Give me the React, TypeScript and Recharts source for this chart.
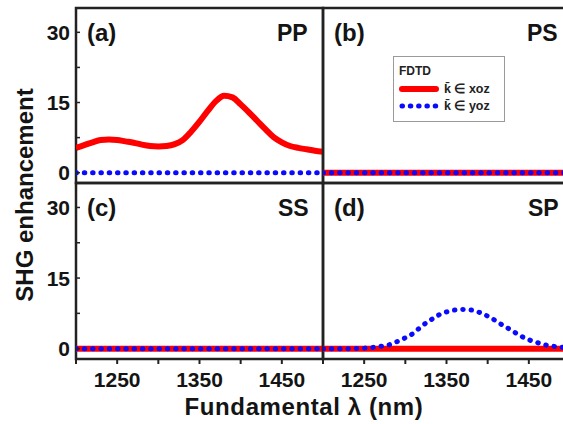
import React from 'react'
import { LineChart, Line, XAxis, YAxis, Legend, ReferenceArea } from 'recharts'

// fundamental wavelength (nm)
const wavelengths = [
  1200, 1210, 1220, 1230, 1240, 1250, 1260, 1270, 1280, 1290, 1300,
  1310, 1320, 1330, 1340, 1350, 1360, 1370, 1380, 1390, 1400,
  1410, 1420, 1430, 1440, 1450, 1460, 1470, 1480, 1490, 1500,
]

// (a) PP
const ppXoz = [
  5.3, 5.9, 6.5, 7.0, 7.1, 7.0, 6.7, 6.4, 6.0, 5.7, 5.6,
  5.7, 6.1, 7.0, 8.8, 10.9, 13.2, 15.3, 16.45, 16.1, 14.6,
  12.9, 11.1, 9.3, 7.6, 6.5, 5.7, 5.3, 5.0, 4.7, 4.5,
]
const ppYoz = [
  0, 0, 0, 0, 0, 0, 0, 0, 0, 0, 0,
  0, 0, 0, 0, 0, 0, 0, 0, 0, 0,
  0, 0, 0, 0, 0, 0, 0, 0, 0, 0,
]
// (b) PS
const psXoz = [
  0, 0, 0, 0, 0, 0, 0, 0, 0, 0, 0,
  0, 0, 0, 0, 0, 0, 0, 0, 0, 0,
  0, 0, 0, 0, 0, 0, 0, 0, 0, 0,
]
const psYoz = [
  0, 0, 0, 0, 0, 0, 0, 0, 0, 0, 0,
  0, 0, 0, 0, 0, 0, 0, 0, 0, 0,
  0, 0, 0, 0, 0, 0, 0, 0, 0, 0,
]
// (c) SS
const ssXoz = [
  0, 0, 0, 0, 0, 0, 0, 0, 0, 0, 0,
  0, 0, 0, 0, 0, 0, 0, 0, 0, 0,
  0, 0, 0, 0, 0, 0, 0, 0, 0, 0,
]
const ssYoz = [
  0, 0, 0, 0, 0, 0, 0, 0, 0, 0, 0,
  0, 0, 0, 0, 0, 0, 0, 0, 0, 0,
  0, 0, 0, 0, 0, 0, 0, 0, 0, 0,
]
// (d) SP
const spXoz = [
  0, 0, 0, 0, 0, 0, 0, 0, 0, 0, 0,
  0, 0, 0, 0, 0, 0, 0, 0, 0, 0,
  0, 0, 0, 0, 0, 0, 0, 0, 0, 0,
]
const spYoz = [
  0, 0, 0, 0, 0.05, 0.1, 0.25, 0.5, 0.8, 1.5, 2.3,
  3.3, 4.8, 6.0, 7.1, 7.8, 8.2, 8.3, 8.2, 7.7, 6.9,
  5.9, 4.8, 3.8, 2.7, 1.9, 1.3, 0.8, 0.5, 0.3, 0.2,
]

const xTicks = [1200, 1250, 1300, 1350, 1400, 1450, 1500]
const xLabels = [1250, 1350, 1450]
const yTicks = [0, 7.5, 15, 22.5, 30]
const yLabels = [0, 15, 30]

const FONT = '"Liberation Sans", Arial, Helvetica, sans-serif'
const FRAME = '#222222'
const RED = '#ff0000'
const BLUE = '#0a0aff'
const X_MIN = 1200
const X_MAX = 1500
const Y_MIN = -2.2
const Y_MAX = 35.2

const makeRows = (xoz: number[], yoz: number[]) =>
  wavelengths.map((w, i) => ({ w, xoz: xoz[i], yoz: yoz[i] }))

const renderLegend = (props: any) => (
  <div
    style={{
      width: 112,
      height: 66,
      boxSizing: 'border-box',
      border: '1px solid #9a9a9a',
      background: '#fff',
      fontFamily: FONT,
      fontWeight: 'bold',
      color: '#222',
      padding: '6px 0 0 5px',
    }}
  >
    <div style={{ fontSize: 12, height: 17, lineHeight: '17px' }}>FDTD</div>
    {(props.payload || []).map((entry: any) => (
      <div key={entry.value} style={{ display: 'flex', alignItems: 'center', height: 17 }}>
        <svg width={42} height={8} style={{ display: 'block' }}>
          <line
            x1={3}
            y1={4}
            x2={37}
            y2={4}
            stroke={entry.color}
            strokeWidth={entry.payload?.strokeWidth}
            strokeDasharray={entry.payload?.strokeDasharray}
            strokeLinecap="round"
          />
        </svg>
        <span style={{ fontSize: 12.5, marginLeft: 3 }}>{entry.value}</span>
      </div>
    ))}
  </div>
)

interface PanelProps {
  xoz: number[]
  yoz: number[]
  left: number
  top: number
  isLeft: boolean
  isBottom: boolean
  legend?: boolean
}

function Panel({ xoz, yoz, left, top, isLeft, isBottom, legend }: PanelProps) {
  const padL = isLeft ? 76 : 10
  const padT = isBottom ? 10 : 8
  const padB = isBottom ? 65 : 10
  const width = padL + 247 + 10
  const height = padT + (isBottom ? 176 : 175) + padB
  const tickStyle = { fontSize: 21, fontWeight: 'bold', fill: '#141414', fontFamily: FONT }

  return (
    <div style={{ position: 'absolute', left, top }}>
      <LineChart
        width={width}
        height={height}
        data={makeRows(xoz, yoz)}
        margin={{ top: padT, right: 10, bottom: isBottom ? 0 : padB, left: isLeft ? 0 : padL }}
      >
        <XAxis
          dataKey="w"
          type="number"
          domain={[X_MIN, X_MAX]}
          allowDataOverflow
          ticks={xTicks}
          interval={0}
          height={isBottom ? padB : 0}
          hide={!isBottom}
          stroke={FRAME}
          strokeWidth={2}
          tick={tickStyle}
          tickLine
          axisLine={false}
          tickSize={5}
          tickMargin={8}
          tickFormatter={(v: number) => (xLabels.includes(v) ? String(v) : '')}
        />
        <YAxis
          type="number"
          domain={[Y_MIN, Y_MAX]}
          allowDataOverflow
          ticks={yTicks}
          interval={0}
          width={isLeft ? 76 : 0}
          hide={!isLeft}
          stroke={FRAME}
          strokeWidth={1.5}
          tick={tickStyle}
          tickLine
          axisLine={false}
          tickSize={-4}
          tickMargin={10}
          tickFormatter={(v: number) => (yLabels.includes(v) ? String(v) : '')}
        />
        {/* panel frame */}
        <ReferenceArea
          x1={X_MIN}
          x2={X_MAX}
          y1={Y_MIN}
          y2={Y_MAX}
          fill="none"
          fillOpacity={0}
          stroke={FRAME}
          strokeWidth={2.5}
          strokeOpacity={1}
          ifOverflow="visible"
        />
        <Line
          dataKey="xoz"
          name="k̄ ∈ xoz"
          type="monotone"
          stroke={RED}
          strokeWidth={6}
          dot={false}
          isAnimationActive={false}
        />
        <Line
          dataKey="yoz"
          name="k̄ ∈ yoz"
          type="monotone"
          stroke={BLUE}
          strokeWidth={5}
          strokeDasharray="0.5 7.8"
          strokeLinecap="round"
          dot={false}
          isAnimationActive={false}
        />
        {legend && (
          <Legend
            layout="vertical"
            align="center"
            verticalAlign="middle"
            content={renderLegend}
            wrapperStyle={{ left: 80, top: 56, width: 112, height: 66 }}
          />
        )}
      </LineChart>
    </div>
  )
}

const tagStyle: React.CSSProperties = {
  position: 'absolute',
  fontFamily: FONT,
  fontWeight: 'bold',
  fontSize: 23,
  lineHeight: '24px',
  color: '#141414',
  whiteSpace: 'nowrap',
}

export default function App() {
  return (
    <div
      style={{
        position: 'fixed',
        left: 0,
        top: 0,
        width: 563,
        height: 424,
        overflow: 'hidden',
        background: '#fff',
      }}
    >
      <Panel xoz={ssXoz} yoz={ssYoz} left={0} top={173} isLeft isBottom />
      <Panel xoz={spXoz} yoz={spYoz} left={313} top={173} isLeft={false} isBottom />
      <Panel xoz={ppXoz} yoz={ppYoz} left={0} top={0} isLeft isBottom={false} />
      <Panel xoz={psXoz} yoz={psYoz} left={313} top={0} isLeft={false} isBottom={false} legend />

      <div style={{ ...tagStyle, left: 87, top: 21, fontSize: 24 }}>(a)</div>
      <div style={{ ...tagStyle, left: 277, top: 21 }}>PP</div>
      <div style={{ ...tagStyle, left: 334, top: 21, fontSize: 24 }}>(b)</div>
      <div style={{ ...tagStyle, left: 527, top: 21 }}>PS</div>
      <div style={{ ...tagStyle, left: 87, top: 196, fontSize: 24 }}>(c)</div>
      <div style={{ ...tagStyle, left: 278, top: 196 }}>SS</div>
      <div style={{ ...tagStyle, left: 334, top: 196, fontSize: 24 }}>(d)</div>
      <div style={{ ...tagStyle, left: 528, top: 196 }}>SP</div>

      <div
        style={{
          ...tagStyle,
          fontSize: 24,
          left: 304,
          top: 395,
          transform: 'translateX(-50%)',
          letterSpacing: 0.6,
        }}
      >
        Fundamental λ (nm)
      </div>
      <div
        style={{
          ...tagStyle,
          fontSize: 24,
          left: 25,
          top: 195,
          transform: 'translate(-50%, -50%) rotate(-90deg)',
        }}
      >
        SHG enhancement
      </div>
    </div>
  )
}
